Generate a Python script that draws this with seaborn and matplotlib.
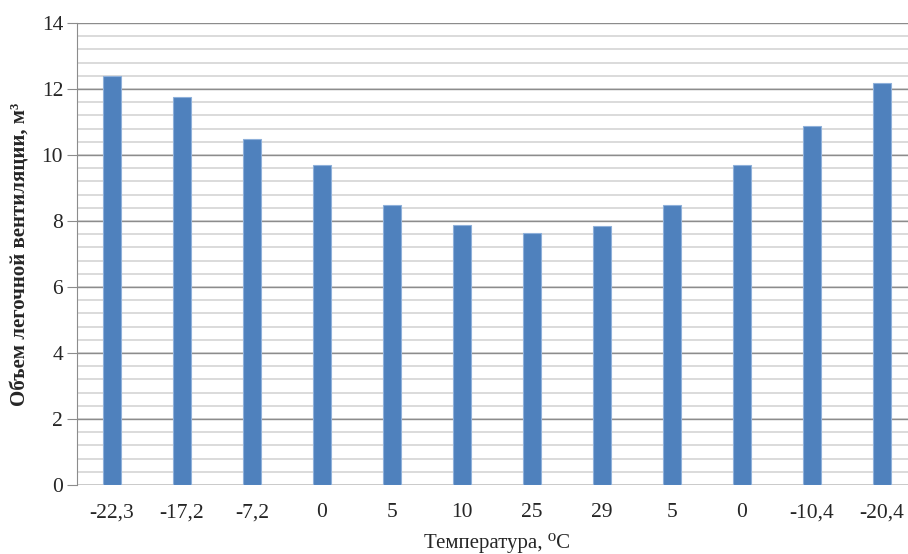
import numpy as np
import pandas as pd
import matplotlib
matplotlib.use("Agg")
import matplotlib.pyplot as plt
import seaborn as sns

sns.set_style("white")
plt.rcParams['font.family'] = ['Liberation Serif', 'DejaVu Serif']

temps = ["-22,3", "-17,2", "-7,2", "0", "5", "10", "25", "29", "5", "0", "-10,4", "-20,4"]
volume = [12.4, 11.75, 10.5, 9.7, 8.48, 7.88, 7.65, 7.85, 8.48, 9.7, 10.88, 12.17]

df = pd.DataFrame({"pos": range(len(temps)), "vol": volume})

fig = plt.figure(figsize=(9.08, 5.54), dpi=100)
ax = fig.add_axes([77 / 908, 69 / 554, 840 / 908, 462 / 554])

# minor and major grid first so bars sit on top
for v in np.arange(0, 14.01, 0.4):
    ax.axhline(v, color="#d4d4d4", lw=1.2, zorder=0)
for v in range(0, 15, 2):
    ax.axhline(v, color="#8c8c8c", lw=1.0, zorder=0.5)

sns.barplot(data=df, x="pos", y="vol", color="#4f81bd", saturation=1,
            width=0.25, edgecolor="#8eb0da", linewidth=0.8, ax=ax, zorder=2)

ax.set_ylim(0, 14)
ax.set_xlim(-0.5, len(temps) - 0.5)
ax.set_yticks(range(0, 15, 2))
ax.set_xticks(range(len(temps)))
ax.set_xticklabels(temps)
ax.tick_params(axis="y", length=7, color="#8c8c8c", labelsize=15.5, pad=3, left=True)
ax.tick_params(axis="x", length=0, labelsize=15.5, pad=13)

for s in ["top", "right", "bottom"]:
    ax.spines[s].set_visible(False)
ax.spines["left"].set_color("#8c8c8c")

ax.set_ylabel("Объем легочной вентиляции, м³", fontsize=15, fontweight="bold", labelpad=8)
ax.set_xlabel("Температура, ⁰C", fontsize=15, labelpad=8)

fig.savefig("out.png", dpi=100)
